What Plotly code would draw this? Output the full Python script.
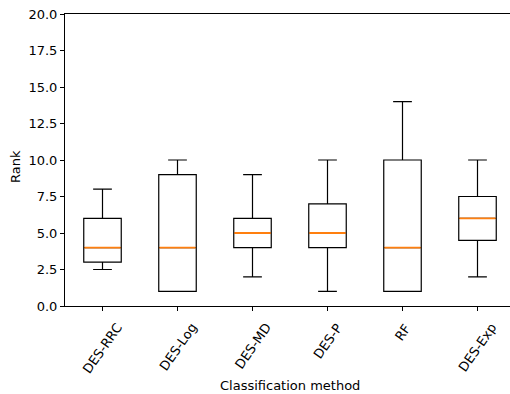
import plotly.graph_objects as go

methods = ["DES-RRC", "DES-Log", "DES-MD", "DES-P", "RF", "DES-Exp"]
q1 = [3.0, 1.0, 4.0, 4.0, 1.0, 4.5]
median = [4.0, 4.0, 5.0, 5.0, 4.0, 6.0]
q3 = [6.0, 9.0, 6.0, 7.0, 10.0, 7.5]
lower_whisker = [2.5, 1.0, 2.0, 1.0, 1.0, 2.0]
upper_whisker = [8.0, 10.0, 9.0, 10.0, 14.0, 10.0]
y_ticks = [0, 2.5, 5, 7.5, 10, 12.5, 15, 17.5, 20]

positions = list(range(1, len(methods) + 1))
W, H = 510, 394
ML, MR, MT, MB = 65, 0, 14, 88
FONT = "DejaVu Sans"
FS = 13
BOXW = 0.5

fig = go.Figure()
for i, p in enumerate(positions):
    fig.add_trace(go.Box(
        x=[p], q1=[q1[i]], median=[median[i]], q3=[q3[i]],
        lowerfence=[lower_whisker[i]], upperfence=[upper_whisker[i]],
        width=BOXW, whiskerwidth=0.5, boxpoints=False,
        fillcolor="rgba(0,0,0,0)", line=dict(color="black", width=1.2),
        showlegend=False, hoverinfo="skip",
    ))
for i, p in enumerate(positions):
    fig.add_trace(go.Scatter(
        x=[p - BOXW / 2 + 0.008, p + BOXW / 2 - 0.008], y=[median[i], median[i]],
        mode="lines", line=dict(color="#ff7f0e", width=1.9),
        showlegend=False, hoverinfo="skip",
    ))

px_per_unit = 75.0
xr_max = 0.5 + (W - ML - MR) / px_per_unit

fig.update_layout(
    width=W, height=H,
    margin=dict(l=ML, r=MR, t=MT, b=MB, pad=0, autoexpand=False),
    paper_bgcolor="white", plot_bgcolor="white",
    font=dict(family=FONT, size=FS, color="black"),
    xaxis=dict(range=[0.5, xr_max], tickvals=positions, ticktext=[""] * len(methods),
               automargin=False,
               showgrid=False, zeroline=False, showline=True, linecolor="black", linewidth=1,
               mirror=True, ticks="outside", ticklen=4, tickcolor="black", tickwidth=1),
    yaxis=dict(range=[0, 20], tickvals=y_ticks, tickformat=".1f", automargin=False,
               showgrid=False, zeroline=False, showline=True, linecolor="black", linewidth=1,
               ticks="outside", ticklen=4, tickcolor="black", tickwidth=1),
)

plot_h = H - MT - MB
plot_w = W - ML - MR
for p, name in zip(positions, methods):
    fig.add_annotation(x=p, xref="x", y=-(318 - (H - MB)) / plot_h, yref="paper",
                       text=name, showarrow=False, textangle=-55,
                       xanchor="center", yanchor="top",
                       font=dict(family=FONT, size=FS, color="black"))

fig.add_annotation(x=(290 - ML) / plot_w, xref="paper", y=-(385 - (H - MB)) / plot_h, yref="paper",
                   text="Classification method", showarrow=False,
                   xanchor="center", yanchor="middle",
                   font=dict(family=FONT, size=FS, color="black"))
fig.add_annotation(x=-(ML - 15) / plot_w, xref="paper", y=(H - MB - 167) / plot_h, yref="paper",
                   text="Rank", showarrow=False, textangle=-90,
                   xanchor="center", yanchor="middle",
                   font=dict(family=FONT, size=FS, color="black"))

fig.write_html("out.html", config={"displayModeBar": False},
               post_script="document.body.style.margin='0';document.body.style.overflow='hidden';")
